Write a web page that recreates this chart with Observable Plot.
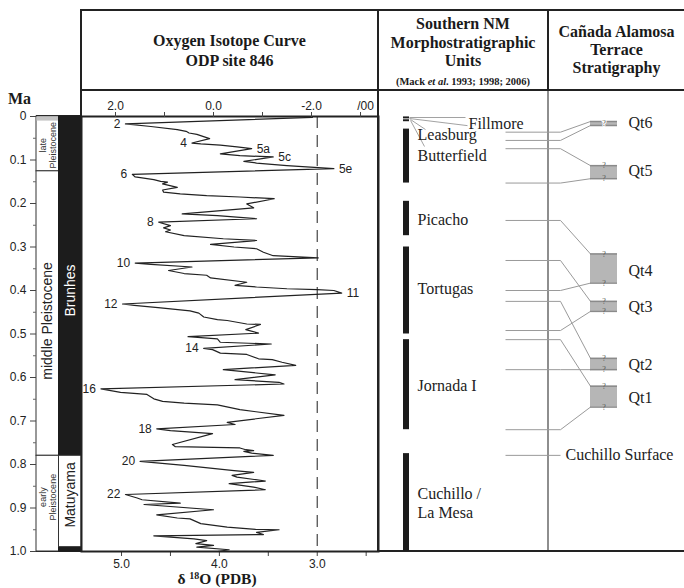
<!DOCTYPE html>
<html><head><meta charset="utf-8">
<script src="https://cdn.jsdelivr.net/npm/d3@7"></script>
<script src="https://cdn.jsdelivr.net/npm/@observablehq/plot@0.6"></script>
<style>
body{margin:0;background:#fff;}
#fig{position:relative;width:684px;height:588px;overflow:hidden;background:#fff;font-family:"Liberation Serif","Times New Roman",serif;color:#1a1a1a}
#fig svg{position:absolute;overflow:visible !important}
.ln{position:absolute;background:#222}
.gl{position:absolute;background:#8e8e8e}
.hd{position:absolute;text-align:center;font-weight:bold;font-size:16px;line-height:18.5px;white-space:nowrap}
</style></head><body><div id="fig"></div>
<script>
// ---------------- data ----------------
// ODP 846 oxygen isotope curve (age in Ma, delta 18O per mil PDB)
const isoAge = [0.002,0.017,0.023,0.030,0.034,0.038,0.041,0.051,0.061,0.063,0.066,0.070,0.074,0.086,0.090,0.093,0.103,0.107,0.113,0.120,
0.133,0.139,0.145,0.149,0.151,0.155,0.163,0.169,0.174,0.178,0.182,0.185,0.189,0.201,0.210,0.224,0.228,0.235,0.243,0.251,
0.256,0.261,0.265,0.274,0.281,0.285,0.294,0.300,0.304,0.312,0.320,0.325,0.337,0.340,0.346,0.354,0.361,0.365,0.371,0.381,
0.388,0.392,0.396,0.398,0.400,0.406,0.431,0.434,0.440,0.447,0.452,0.461,0.467,0.469,0.477,0.478,0.490,0.498,0.506,0.511,
0.519,0.523,0.533,0.536,0.544,0.547,0.557,0.559,0.565,0.572,0.582,0.594,0.605,0.611,0.615,0.626,0.634,0.639,0.649,0.655,
0.659,0.663,0.674,0.687,0.703,0.708,0.718,0.722,0.729,0.754,0.759,0.762,0.766,0.768,0.770,0.774,0.779,0.793,0.802,0.814,
0.818,0.825,0.829,0.838,0.844,0.852,0.858,0.869,0.877,0.881,0.889,0.892,0.904,0.916,0.923,0.925,0.936,0.944,0.949,0.950,
0.956,0.961,0.964,0.971,0.975,0.982,0.986,0.990,0.996,1.000];
const isoD18O = [3.05,4.96,4.70,4.43,4.34,4.31,4.23,4.10,4.28,4.19,3.99,3.82,3.67,3.99,3.79,3.45,3.75,3.62,3.31,2.83,
4.89,4.86,4.67,4.60,4.53,4.58,4.43,4.58,4.57,4.40,4.13,3.79,3.44,3.72,3.65,4.38,4.02,3.62,4.62,4.50,
4.57,4.50,4.55,4.36,3.96,3.62,4.09,3.85,3.62,3.55,3.45,2.99,4.86,4.70,4.28,4.52,4.36,4.13,4.09,3.72,
3.84,3.62,3.31,3.00,2.83,2.75,4.99,4.87,4.60,4.30,4.21,4.16,4.02,3.92,3.72,3.58,3.73,3.60,4.32,4.02,
3.99,3.47,4.16,4.07,3.99,3.72,3.60,3.46,3.36,3.22,3.96,3.43,3.84,3.39,3.34,5.21,5.01,4.74,4.67,4.58,
4.36,4.02,3.79,3.34,3.92,3.84,4.64,4.50,4.07,4.48,4.45,3.79,3.73,3.65,3.75,3.67,3.45,4.81,4.36,3.85,
3.65,3.87,3.82,3.53,3.90,3.65,3.53,4.96,4.84,4.79,4.40,4.77,4.06,4.64,4.43,4.30,4.19,3.92,3.63,3.39,
3.62,3.55,4.67,4.26,4.13,4.24,4.06,4.23,3.90,4.02];

// marine isotope stage labels
const stageName = ["2","4","5a","5c","5e","6","8","10","11","12","14","16","18","20","22"];
const stageAge  = [0.017,0.061,0.074,0.093,0.120,0.133,0.243,0.337,0.406,0.431,0.533,0.626,0.718,0.793,0.869];
const stageD18O = [4.96,4.28,3.67,3.45,2.83,4.89,4.62,4.86,2.75,4.99,4.16,5.21,4.64,4.81,4.96];
const stageSide = ["left","left","right","right","right","left","left","left","right","left","left","left","left","left","left"];

// axes
const maTicks  = [0,0.1,0.2,0.3,0.4,0.5,0.6,0.7,0.8,0.9,1.0];
const maLabels = ["0","0.1","0.2","0.3","0.4","0.5","0.6","0.7","0.8","0.9","1.0"];
const maMinor  = [0.05,0.15,0.25,0.35,0.45,0.55,0.65,0.75,0.85,0.95];
const d18OTicks  = [5.0,4.5,4.0,3.5,3.0,2.5];
const d18OLabels = ["5.0","","4.0","","3.0",""];
const topTicks  = [2,1,0,-1,-2,-3];
const topLabels = ["2.0","","0.0","","-2.0",""];
const topUnit = "/00";
const refD18O = [3.0];

// epochs and polarity chrons
const epochName  = ["late\nPleistocene","middle Pleistocene","early\nPleistocene"];
const epochTop   = [0,0.126,0.78];
const epochBottom= [0.126,0.78,1.0];
const epochLabelAge = [0.066,0.47,0.875];
const holoceneTop = 0, holoceneBottom = 0.0117;
const chronName   = ["Brunhes","Matuyama",""];
const chronTop    = [0,0.78,0.99];
const chronBottom = [0.78,0.99,1.0];
const chronPolarity = ["normal","reversed","normal"];
const chronLabelAge = [0.40,0.87,0.995];

// Southern NM morphostratigraphic units
const unitBarTop    = [0.001,0.0075,0.029,0.195,0.300,0.513,0.775];
const unitBarBottom = [0.0055,0.012,0.153,0.274,0.500,0.720,1.0];
const unitName      = ["Fillmore","Leasburg","Butterfield","Picacho","Tortugas","Jornada I","Cuchillo /\nLa Mesa"];
const unitLabelAge  = [0.0138,0.040,0.0885,0.236,0.395,0.618,0.8875];

// Cañada Alamosa terraces
const terraceName   = ["Qt6","Qt5","Qt4","Qt3","Qt2","Qt1"];
const terraceTop    = [0.0115,0.113,0.316,0.425,0.556,0.620];
const terraceBottom = [0.0207,0.143,0.383,0.448,0.582,0.668];
const terraceLabelAge = [0.0154,0.126,0.354,0.437,0.570,0.646];

// correlation ties: unit boundary age -> terrace edge
const tieAge    = [0.036,0.055,0.074,0.153,0.239,0.331,0.400,0.425,0.492,0.513,0.582,0.720,0.779];
const tieTarget = ["Qt6","Qt6","Qt5","Qt5","Qt4","Qt3","Qt4","Qt2","Qt3","Qt1","Qt2","Qt1","Cuchillo Surface"];
const tieEdge   = ["top","bottom","top","bottom","top","top","bottom","top","bottom","top","bottom","bottom",""];
const surfaceName = "Cuchillo Surface";
const surfaceAge = 0.779;

// leader lines from tiny unit bars to their names (age at bar -> age at label)
const leaderFromAge = [0.0023,0.0046,0.0069,0.009];
const leaderToAge   = [0.0023,0.021,0.030,0.069];
const leaderTo      = ["Fillmore","Fillmore","Leasburg","Butterfield"];

// ---------------- layout (not data) ----------------
const fig = document.getElementById("fig");
const SERIF = "'Liberation Serif','Times New Roman',serif";
const SANS = "'Liberation Sans',Arial,sans-serif";
const M = {top: 116, bottom: 37, height: 588};
const yOpt = {domain: [0, 1], reverse: true, axis: null};
const baseStyle = {background: "transparent", fontFamily: SANS, fontSize: "12px", color: "#222"};
function place(node, left, top) { node.style.left = left + "px"; node.style.top = top + "px"; fig.appendChild(node); }
function div(cls, l, t, w, h, html) { const d = document.createElement("div"); d.className = cls; d.style.left = l+"px"; d.style.top = t+"px"; if (w!=null) d.style.width = w+"px"; if (h!=null) d.style.height = h+"px"; if (html) d.innerHTML = html; fig.appendChild(d); return d; }

// ---------------- tables ----------------
const iso = isoAge.map((age, i) => ({age, d18O: isoD18O[i]}));
const stages = stageName.map((name, i) => ({name, age: stageAge[i], d18O: stageD18O[i], side: stageSide[i]}));
const epochs = epochName.map((name, i) => ({name, top: epochTop[i], bottom: epochBottom[i], labelAge: epochLabelAge[i]}));
const chrons = chronName.map((name, i) => ({name, top: chronTop[i], bottom: chronBottom[i], polarity: chronPolarity[i], labelAge: chronLabelAge[i]}));
const units = unitName.map((name, i) => ({name, top: unitBarTop[i], bottom: unitBarBottom[i], labelAge: unitLabelAge[i]}));
const terraces = terraceName.map((name, i) => ({name, top: terraceTop[i], bottom: terraceBottom[i], labelAge: terraceLabelAge[i]}));
const tByName = Object.fromEntries(terraces.map(t => [t.name, t]));
const ties = tieAge.map((age, i) => ({age, target: tieTarget[i], edge: tieEdge[i],
  targetAge: tieEdge[i] ? tByName[tieTarget[i]][tieEdge[i]] : age}));
const qmarks = terraces.flatMap(t => (t.bottom - t.top) < 0.015
  ? [{age: (t.top + t.bottom) / 2, thin: true}] : [{age: t.top, thin: false}, {age: t.bottom, thin: false}]);
const leaders = leaderFromAge.map((a, i) => ({from: a, to: leaderToAge[i], name: leaderTo[i]}));

// ---------------- frame lines & headers (HTML) ----------------
div("ln", 80, 9, 604, 2);
div("ln", 80, 89, 604, 2);
div("ln", 80, 9, 2, 108);
div("ln", 377, 9, 2, 543);
div("ln", 547, 9, 2, 82);
div("gl", 547, 91, 2, 460);
div("ln", 378, 550, 306, 2);
div("ln", 36, 550, 46, 2);
div("ln", 36, 115, 46, 2);

div("hd", 81, 31, 297, null, "Oxygen Isotope Curve<br>ODP site 846").style.lineHeight = "19.5px";
div("hd", 379, 15, 168, null, "Southern NM<br>Morphostratigraphic<br>Units<br><span style='font-size:10.5px;line-height:15px;display:inline-block'>(Mack <i>et al</i>. 1993; 1998; 2006)</span>");
div("hd", 549, 23, 135, null, "Cañada Alamosa<br>Terrace<br>Stratigraphy").style.lineHeight = "18px";
const ma = div("hd", 8, 91, null, null, "Ma"); ma.style.textAlign = "left"; ma.style.lineHeight = "16px";
const xl = div("hd", 117, 567, 200, null, "δ <sup style='font-size:10px;vertical-align:5px'>18</sup>O (PDB)"); xl.style.lineHeight = "17px"; xl.style.fontSize = "15.5px";

// ---------------- left: Ma axis, epochs, polarity ----------------
const leftPlot = Plot.plot({
  width: 81, height: M.height, marginLeft: 36, marginRight: 0, marginTop: M.top, marginBottom: M.bottom,
  x: {domain: [0, 2], axis: null}, y: yOpt, style: baseStyle,
  marks: [
    Plot.rect(epochs, {x1: 0, x2: 1, y1: "top", y2: "bottom", fill: "white", stroke: "#333", strokeWidth: 1}),
    Plot.rect([{top: holoceneTop, bottom: holoceneBottom}], {x1: 0, x2: 1, y1: "top", y2: "bottom", fill: "#c4c4c4", inset: 0.5}),
    Plot.rect(chrons.filter(d => d.polarity === "normal"), {x1: 1, x2: 2, y1: "top", y2: "bottom", fill: "#1c1c1c", stroke: "#1c1c1c"}),
    Plot.rect(chrons.filter(d => d.polarity !== "normal"), {x1: 1, x2: 2, y1: "top", y2: "bottom", fill: "white", stroke: "#333"}),
    Plot.text(epochs.filter(d => d.name.includes("\n")), {x: 0.5, y: "labelAge", text: "name", rotate: -90, fontSize: 9, lineHeight: 1.05, fill: "#333"}),
    Plot.text(epochs.filter(d => !d.name.includes("\n")), {x: 0.5, y: "labelAge", text: "name", rotate: -90, fontSize: 14, fill: "#222"}),
    Plot.text(chrons.filter(d => d.name && d.polarity === "normal"), {x: 1.5, y: "labelAge", text: "name", rotate: -90, fontSize: 14, fill: "white"}),
    Plot.text(chrons.filter(d => d.name && d.polarity !== "normal"), {x: 1.5, y: "labelAge", text: "name", rotate: -90, fontSize: 14, fill: "#222"}),
    Plot.axisY({anchor: "left", ticks: maTicks, tickFormat: d => maLabels[maTicks.indexOf(d)], tickSize: 6, tickPadding: 4, label: null, fontSize: 12, stroke: "#444"}),
    Plot.axisY({anchor: "left", ticks: maMinor, tickFormat: () => "", tickSize: 3, label: null, stroke: "#666"})
  ]
});
place(leftPlot, 0, 0);

// ---------------- isotope curve ----------------
const isoPlot = Plot.plot({
  width: 297, height: M.height, marginLeft: 0, marginRight: 0, marginTop: M.top, marginBottom: M.bottom,
  x: {domain: [5.409, 2.374], axis: null}, y: yOpt, style: baseStyle,
  marks: [
    Plot.ruleX(refD18O, {stroke: "#444", strokeWidth: 1.2, strokeDasharray: "12,7"}),
    Plot.line(iso, {x: "d18O", y: "age", stroke: "#222", strokeWidth: 1.2}),
    Plot.text(stages.filter(d => d.side === "left"), {x: "d18O", y: "age", text: "name", textAnchor: "end", dx: -5, fontSize: 12, fill: "#222"}),
    Plot.text(stages.filter(d => d.side === "right"), {x: "d18O", y: "age", text: "name", textAnchor: "start", dx: 5, fontSize: 12, fill: "#222"}),
    Plot.axisX({anchor: "bottom", ticks: d18OTicks, tickFormat: d => d18OLabels[d18OTicks.indexOf(d)], tickSize: 5, tickPadding: 3, label: null, fontSize: 12, stroke: "#444"}),
    Plot.frame({stroke: "#222", strokeWidth: 2})
  ]
});
place(isoPlot, 81, 0);

// top (secondary) axis
const topPlot = Plot.plot({
  width: 297, height: M.height, marginLeft: 0, marginRight: 0, marginTop: M.top, marginBottom: M.bottom,
  x: {domain: [2.694, -3.367], axis: null}, y: yOpt, style: baseStyle,
  marks: [
    Plot.axisX({anchor: "top", ticks: topTicks, tickFormat: d => topLabels[topTicks.indexOf(d)], tickSize: 5, tickPadding: 2, label: null, fontSize: 12, stroke: "#444"}),
    Plot.axisX({anchor: "top", ticks: [topTicks[topTicks.length - 1]], tickFormat: () => topUnit, tickSize: 0, tickPadding: 7, dx: 5, label: null, fontSize: 12})
  ]
});
place(topPlot, 81, 0);

// ---------------- units & terraces ----------------
const C = {bar: 28, unitText: 39, fillmoreText: 90, tie0: 127, elbow: 182, box0: 212, box1: 239, boxMid: 225.5, qtText: 250, surfText: 187};
const leaderEndX = [87, 89, 47, 46];
const rightPlot = Plot.plot({
  width: 306, height: M.height, marginLeft: 0, marginRight: 0, marginTop: M.top, marginBottom: M.bottom,
  x: {domain: [0, 306], axis: null}, y: yOpt, style: baseStyle,
  marks: [
    Plot.link(ties, {x1: C.tie0, x2: C.elbow, y1: "age", y2: "age", stroke: "#9a9a9a", strokeWidth: 1}),
    Plot.link(ties.filter(d => d.edge), {x1: C.elbow, y1: "age", x2: C.box0, y2: "targetAge", stroke: "#9a9a9a", strokeWidth: 1}),
    Plot.link(leaders, {x1: (d, i) => C.bar + 3 + (i > 1 ? 1 : 0), y1: "from", x2: (d, i) => leaderEndX[i], y2: "to", stroke: "#8a8a8a", strokeWidth: 0.8}),
    Plot.rect(units, {x1: C.bar - 3, x2: C.bar + 3, y1: "top", y2: "bottom", fill: "#1c1c1c"}),
    Plot.text(units, {x: d => d.name === "Fillmore" ? C.fillmoreText : C.unitText, y: "labelAge", text: "name", textAnchor: "start", fontFamily: SERIF, fontSize: 16, lineHeight: 1.17, fill: "#222"}),
    Plot.rect(terraces, {x1: C.box0, x2: C.box1, y1: "top", y2: "bottom", fill: "#b6b6b6"}),
    Plot.ruleY(terraces, {y: "top", x1: C.box0, x2: C.box1, stroke: "#8a8a8a", strokeWidth: 1.5}),
    Plot.ruleY(terraces, {y: "bottom", x1: C.box0, x2: C.box1, stroke: "#8a8a8a", strokeWidth: 1.5}),
    Plot.text(qmarks.filter(d => d.thin), {x: C.boxMid, y: "age", text: () => "?", fontFamily: SERIF, fontSize: 8, fill: "#555", stroke: "white", strokeWidth: 2, paintOrder: "stroke"}),
    Plot.text(qmarks.filter(d => !d.thin), {x: C.boxMid, y: "age", text: () => "?", fontFamily: SERIF, fontSize: 8, fill: "#555"}),
    Plot.text(terraces, {x: C.qtText, y: "labelAge", text: "name", textAnchor: "start", fontFamily: SERIF, fontSize: 16, fill: "#222"}),
    Plot.text([{name: surfaceName, age: surfaceAge}], {x: C.surfText, y: "age", text: "name", textAnchor: "start", fontFamily: SERIF, fontSize: 16, fill: "#222"})
  ]
});
place(rightPlot, 378, 0);
</script></body></html>
